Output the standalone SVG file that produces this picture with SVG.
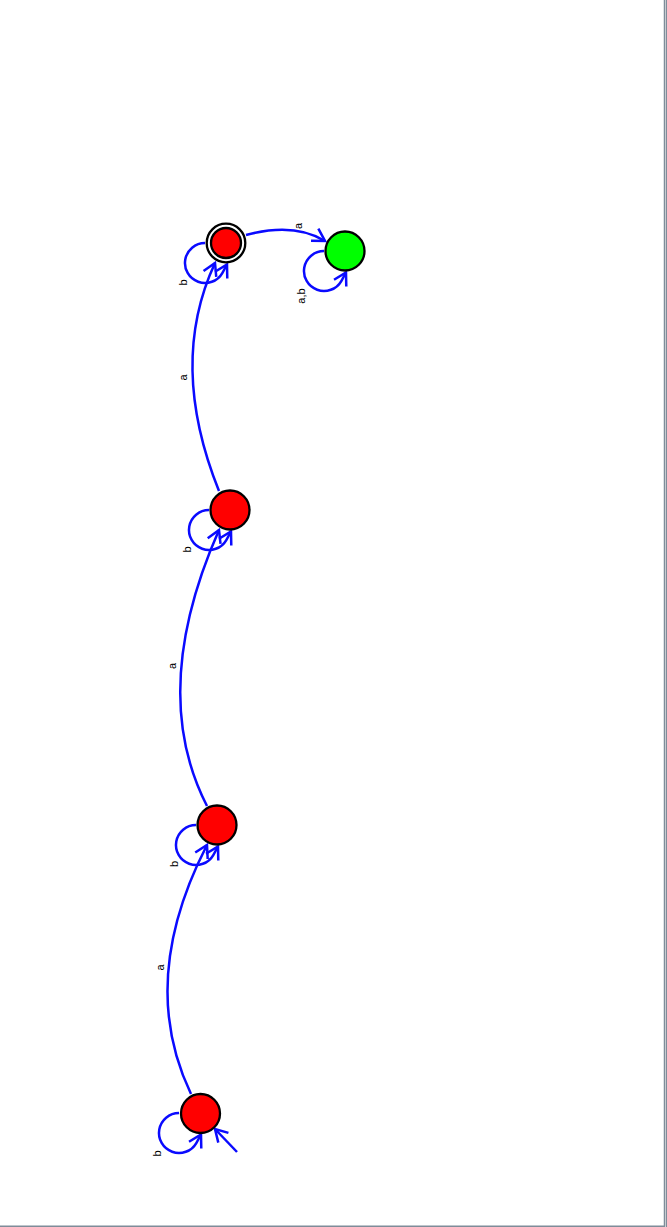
<svg xmlns="http://www.w3.org/2000/svg" width="667" height="1227" viewBox="0 0 667 1227">
<style>
.e{fill:none;stroke:#0a0aff;stroke-width:2.5;marker-end:url(#arr)}
.n{stroke:#000;stroke-width:2.3}
.l{font-family:"Liberation Sans",Arial,sans-serif;font-size:11px;fill:#000;text-anchor:middle}
.b{stroke:#7f8c99;stroke-width:1.5}
</style>
<defs>
<marker id="arr" markerUnits="userSpaceOnUse" markerWidth="30" markerHeight="30" refX="0" refY="0" orient="auto" overflow="visible">
<path d="M-12.1,-7 L0,0 L-12.1,7" fill="none" stroke="#0a0aff" stroke-width="2.5"/>
</marker>
</defs>
<rect width="667" height="1227" fill="#fff"/>
<g id="border">
<line class="b" x1="664.5" y1="0" x2="664.5" y2="1226.5"/>
<line class="b" x1="666.5" y1="0" x2="666.5" y2="1227"/>
<line class="b" x1="0" y1="1226.3" x2="665" y2="1226.3"/>
</g>
<g id="connectors">
<path class="e" d="M237,1152 L215,1129"/>
<path class="e" d="M179,1113 A20,20 0 1 0 196.3,1143 L201,1134.5"/>
<path class="e" d="M191,1094 Q137,981 207,845"/>
<path class="e" d="M196,825 A20,20 0 1 0 213.3,855 L218,846.5"/>
<path class="e" d="M207,806 Q148,691 219,530"/>
<path class="e" d="M209,510 A20,20 0 1 0 226.3,540 L231,531.5"/>
<path class="e" d="M219,491 Q168,364 215,263"/>
<path class="e" d="M205,243 A20,20 0 1 0 222.3,273 L227,264.5"/>
<path class="e" d="M246,235 Q294,222 325,241"/>
<path class="e" d="M324,251 A20,20 0 1 0 341.3,281 L346,272.5"/>
<text class="l" transform="translate(160.7,1153.5) rotate(-90)">b</text>
<text class="l" transform="translate(163.5,967.5) rotate(-90)">a</text>
<text class="l" transform="translate(178.3,864) rotate(-90)">b</text>
<text class="l" transform="translate(175.7,666) rotate(-90)">a</text>
<text class="l" transform="translate(191,549.5) rotate(-90)">b</text>
<text class="l" transform="translate(186.6,377.5) rotate(-90)">a</text>
<text class="l" transform="translate(186.7,282.5) rotate(-90)">b</text>
<text class="l" transform="translate(301.6,226) rotate(-90)">a</text>
<text class="l" transform="translate(305,296) rotate(-90)">a,b</text>
</g>
<g id="q0"><circle class="n" cx="200.5" cy="1113.5" r="19.5" fill="#ff0000"/></g>
<g id="q1"><circle class="n" cx="217" cy="825" r="19.5" fill="#ff0000"/></g>
<g id="q2"><circle class="n" cx="230" cy="510" r="19.5" fill="#ff0000"/></g>
<g id="q3"><circle class="n" cx="226" cy="243" r="19.3" fill="#fff"/><circle class="n" cx="226" cy="243" r="15" fill="#ff0000"/></g>
<g id="q4"><circle class="n" cx="345" cy="251" r="19.5" fill="#00ff00"/></g>
</svg>
